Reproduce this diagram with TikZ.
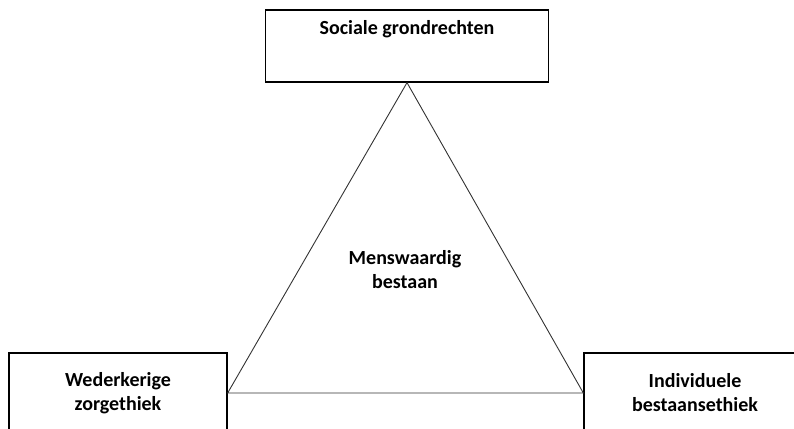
\documentclass[tikz,border=0pt]{standalone}
\usepackage{fontspec}
\setmainfont{Carlito}

\tikzset{
box/.style={draw, line width=1.3pt, inner sep=0pt, align=center,
  font=\fontsize{20}{24}\selectfont\bfseries},
side/.style={draw=black!80, line width=0.9pt}
}

\begin{document}
\begin{tikzpicture}[x=1pt, y=-1pt]
\useasboundingbox (0,0) rectangle (794,428);

\node[box, minimum width=283pt, text height=25pt, text depth=47pt] (sociaal) at (407,46) {Sociale grondrechten};
\node[box, minimum width=218pt, minimum height=80pt] (zorg) at (118,393) {Wederkerige\\zorgethiek};
\node[box, minimum width=222pt, minimum height=80pt] (bestaan) at (695,393) {Individuele\\bestaansethiek};

\node[font=\fontsize{20}{24}\selectfont\bfseries, align=center] (kern) at (405,270) {Menswaardig\\bestaan};

\draw[side] (sociaal.south) -- (zorg.east) -- (bestaan.west) -- cycle;
\end{tikzpicture}
\end{document}
